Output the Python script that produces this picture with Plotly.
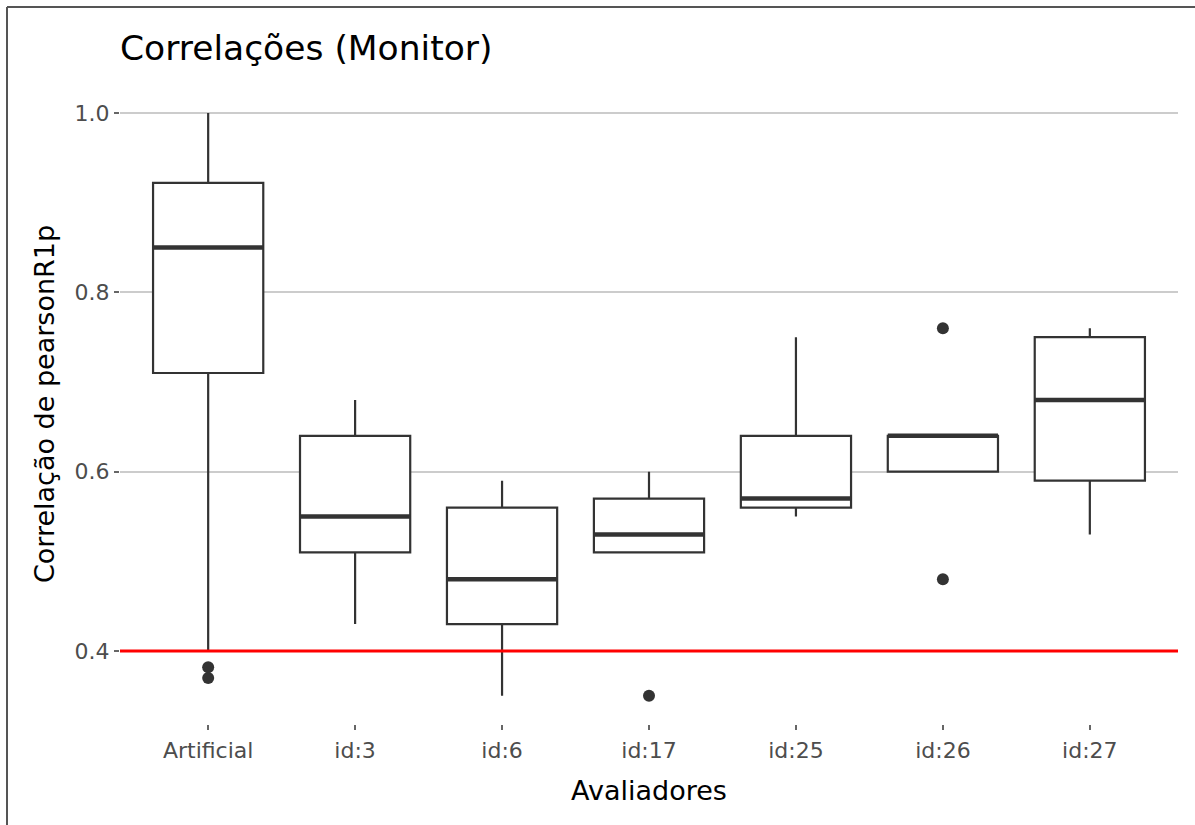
import plotly.graph_objects as go

# ---- data ----
categories = ["Artificial", "id:3", "id:6", "id:17", "id:25", "id:26", "id:27"]
lower_fence = [0.40, 0.43, 0.35, 0.51, 0.55, 0.60, 0.53]
q1_vals     = [0.71, 0.51, 0.43, 0.51, 0.56, 0.60, 0.59]
median_vals = [0.85, 0.55, 0.48, 0.53, 0.57, 0.64, 0.68]
q3_vals     = [0.922, 0.64, 0.56, 0.57, 0.64, 0.64, 0.75]
upper_fence = [1.00, 0.68, 0.59, 0.60, 0.75, 0.64, 0.76]
outlier_cat = ["Artificial", "Artificial", "id:17", "id:26", "id:26"]
outlier_val = [0.382, 0.370, 0.35, 0.76, 0.48]
y_ticks = [0.4, 0.6, 0.8, 1.0]
threshold = 0.4

title_text = "Correlações (Monitor)"
x_title = "Avaliadores"
y_title = "Correlação de pearsonR1p"

FONT = "DejaVu Sans"
BOX_W = 0.75
LINE_C = "#333333"

pos = list(range(len(categories)))
idx = {c: i for i, c in enumerate(categories)}

fig = go.Figure()

fig.add_trace(go.Box(
    x=pos, q1=q1_vals, median=median_vals, q3=q3_vals,
    lowerfence=lower_fence, upperfence=upper_fence,
    boxpoints=False, width=BOX_W, whiskerwidth=0,
    fillcolor="white", line=dict(color=LINE_C, width=2.2),
    showlegend=False, hoverinfo="skip",
))

# thicker median segments (ggplot style)
mx, my = [], []
for i, m in zip(pos, median_vals):
    mx += [i - BOX_W / 2, i + BOX_W / 2, None]
    my += [m, m, None]
fig.add_trace(go.Scatter(x=mx, y=my, mode="lines",
                         line=dict(color=LINE_C, width=4.5),
                         showlegend=False, hoverinfo="skip"))

# outliers
fig.add_trace(go.Scatter(
    x=[idx[c] for c in outlier_cat], y=outlier_val, mode="markers",
    marker=dict(color=LINE_C, size=12), showlegend=False,
))

# threshold line
fig.add_hline(y=threshold, line=dict(color="#ff0000", width=3), layer="above")

# partial frame (top and left edges)
x_l, x_r = 120, 1178
y_t, y_b = 84, 724
pw, ph = x_r - x_l, y_b - y_t
def px(xp): return (xp - x_l) / pw
def py(yp): return (y_b - yp) / ph
fig.add_shape(type="line", xref="paper", yref="paper",
              x0=px(7), x1=px(1195), y0=py(7), y1=py(7),
              line=dict(color="#555555", width=2))
fig.add_shape(type="line", xref="paper", yref="paper",
              x0=px(7), x1=px(7), y0=py(7), y1=py(825),
              line=dict(color="#555555", width=2))

fig.update_layout(
    width=1195, height=825,
    margin=dict(l=x_l, r=1195 - x_r, t=y_t, b=825 - y_b),
    paper_bgcolor="white", plot_bgcolor="white",
    font=dict(family=FONT, color="#000000"),
    title=dict(text=title_text, x=0, xref="paper", xanchor="left",
               y=1 - 48 / 825, yref="container", yanchor="middle",
               font=dict(size=34.5, color="#000000", family=FONT)),
    showlegend=False,
)

fig.update_xaxes(
    range=[-0.6, 6.6], tickmode="array", tickvals=pos, ticktext=categories,
    showgrid=False, zeroline=False, showline=False,
    ticks="outside", ticklen=5, tickwidth=2, tickcolor="#666666",
    ticklabelstandoff=2,
    tickfont=dict(size=22, color="#4d4d4d", family=FONT),
    title=dict(text=x_title, font=dict(size=27, color="#000000", family=FONT),
               standoff=18),
)
fig.update_yaxes(
    range=[0.3186, 1.0323], tickmode="array", tickvals=y_ticks,
    ticktext=[f"{v:.1f}" for v in y_ticks],
    showgrid=True, gridcolor="#cccccc", gridwidth=2,
    zeroline=False, showline=False,
    ticks="outside", ticklen=5, tickwidth=2, tickcolor="#666666",
    tickfont=dict(size=22, color="#4d4d4d", family=FONT),
    title=dict(text=y_title, font=dict(size=27, color="#000000", family=FONT),
               standoff=12),
)

fig.write_html("out.html")
